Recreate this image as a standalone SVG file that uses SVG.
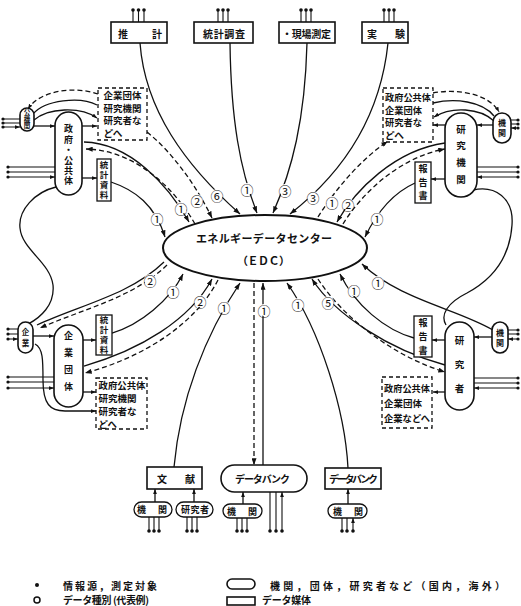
<svg xmlns="http://www.w3.org/2000/svg" width="521" height="606" viewBox="0 0 521 606">
<defs>
<style>
.ln{fill:none;stroke:#111;stroke-width:1.3}
.d{stroke-dasharray:5 3}
.nd{fill:#fff;stroke:#111;stroke-width:1.6}
.db{fill:#fff;stroke:#111;stroke-width:1.3;stroke-dasharray:4 3}
text{font-family:'Noto Sans CJK JP','Noto Sans CJK SC',sans-serif;font-weight:700;fill:#111}
.t{font-size:10px;dominant-baseline:central}
.vt{writing-mode:vertical-rl;font-size:9px}
.bx{font-size:9.5px;dominant-baseline:central}
.bs{font-size:8.6px;dominant-baseline:central}
.n{font-size:13px;text-anchor:middle;dominant-baseline:central;font-weight:400}
.bg{fill:#fff}
.pin{fill:none;stroke:#111;stroke-width:1.1}
.dot{fill:#111}
.lg{font-size:10px;dominant-baseline:central}
</style>
<marker id="ah" viewBox="0 0 8 6" refX="8" refY="3" markerWidth="7" markerHeight="5" markerUnits="userSpaceOnUse" orient="auto"><path d="M0,0L8,3L0,6z" fill="#111"/></marker>
<marker id="as" viewBox="0 0 8 6" refX="8" refY="3" markerWidth="5" markerHeight="4" markerUnits="userSpaceOnUse" orient="auto"><path d="M0,0L8,3L0,6z" fill="#111"/></marker>
</defs>
<rect width="521" height="606" fill="#fff"/>

<g id="connectors">
<!-- top boxes to EDC -->
<path class="ln" d="M140,43 C145,110 185,165 240,214" marker-end="url(#ah)"/>
<path class="ln" d="M230,43 C231,120 240,170 257,213" marker-end="url(#ah)"/>
<path class="ln" d="M307,43 C305,120 292,170 273,213" marker-end="url(#ah)"/>
<path class="ln" d="M388,43 C380,120 340,175 290,214" marker-end="url(#ah)"/>
<!-- upper left -->
<path class="ln" d="M111,182 C135,190 155,205 165,237" marker-end="url(#ah)"/>
<path class="ln" d="M84,142 C130,143 168,185 189,222" marker-end="url(#ah)"/>
<path class="ln d" d="M195,224 C174,187 134,150 86,149" marker-end="url(#ah)"/>
<path class="ln d" d="M147,132 C172,152 196,185 212,218" marker-end="url(#ah)"/>
<!-- upper right -->
<path class="ln d" d="M318,217 C335,190 360,160 388,141" marker-end="url(#ah)"/>
<path class="ln" d="M445,143 C395,150 355,190 337,222" marker-end="url(#ah)"/>
<path class="ln d" d="M343,224 C362,193 400,157 445,149" marker-end="url(#ah)"/>
<path class="ln" d="M415,183 C395,192 378,210 365,237" marker-end="url(#ah)"/>
<!-- lower left -->
<path class="ln" d="M37,325 C80,305 130,295 164,262"/>
<path class="ln d" d="M167,265 C133,298 83,309 40,328" marker-end="url(#ah)"/>
<path class="ln" d="M112,333 C140,325 170,300 183,274" marker-end="url(#ah)"/>
<path class="ln" d="M84,366 C140,350 190,320 212,279" marker-end="url(#ah)"/>
<path class="ln d" d="M218,280 C196,323 145,357 85,373" marker-end="url(#ah)"/>
<!-- bottom -->
<path class="ln" d="M174,467 C180,400 205,335 240,283" marker-end="url(#ah)"/>
<path class="ln d" d="M254,283 L254,465" marker-end="url(#ah)"/>
<path class="ln" d="M263,465 L263,283" marker-end="url(#ah)"/>
<path class="ln" d="M348,468 C345,410 320,330 287,283" marker-end="url(#ah)"/>
<!-- lower right -->
<path class="ln" d="M445,365 C390,350 335,315 312,279" marker-end="url(#ah)"/>
<path class="ln d" d="M318,279 C343,318 395,357 445,372" marker-end="url(#ah)"/>
<path class="ln" d="M414,338 C385,330 355,305 340,274" marker-end="url(#ah)"/>
<path class="ln" d="M493,330 C455,308 400,300 362,264" marker-end="url(#ah)"/>
<!-- loops -->
<path class="ln" d="M56,187 C35,192 18,210 20,228 C22,250 50,262 53,285 C55,305 40,318 28,324"/>
<path class="ln" d="M473,190 C495,185 514,198 512,225 C510,255 495,278 467,293 C447,303 440,315 446,325"/>
<!-- small arrows left upper -->
<path class="ln" d="M34,126 L55,126" marker-end="url(#as)"/>
<path class="ln" d="M82,126 L97,126" marker-end="url(#as)"/>
<path class="ln" d="M82,178 L97,178" marker-end="url(#as)"/>
<path class="ln d" d="M98,94 C75,86 40,90 28,109" marker-end="url(#as)"/>
<path class="ln" d="M33,114 C45,100 80,96 97,105"/>
<path class="ln" d="M34,120 C48,108 80,106 97,118" marker-end="url(#as)"/>
<!-- small arrows right upper -->
<path class="ln" d="M493,125 L477,125" marker-end="url(#as)"/>
<path class="ln" d="M445,125 L433,125" marker-end="url(#as)"/>
<path class="ln" d="M445,179 L431,179" marker-end="url(#as)"/>
<path class="ln d" d="M433,93 C460,88 490,95 499,112" marker-end="url(#as)"/>
<path class="ln" d="M433,103 C455,98 482,101 494,116"/>
<path class="ln" d="M494,121 C480,108 452,106 434,117" marker-end="url(#as)"/>
<!-- small arrows left lower -->
<path class="ln" d="M33,336 L54,336" marker-end="url(#as)"/>
<path class="ln" d="M83,340 L96,340" marker-end="url(#as)"/>
<path class="ln" d="M83,392 L96,392" marker-end="url(#as)"/>
<path class="ln" d="M35,344 C43,348 43,360 43,380 C43,404 50,411 65,411 L96,411" marker-end="url(#as)"/>
<!-- small arrows right lower -->
<path class="ln" d="M492,337 L474,337" marker-end="url(#as)"/>
<path class="ln" d="M445,340 L432,340" marker-end="url(#as)"/>
<path class="ln" d="M445,392 L433,392" marker-end="url(#as)"/>
<!-- bottom small arrows -->
<path class="ln" d="M155,502 L155,489" marker-end="url(#as)"/>
<path class="ln" d="M194,502 L194,489" marker-end="url(#as)"/>
<path class="ln" d="M243,504 L243,492" marker-end="url(#as)"/>
<path class="ln" d="M348,504 L348,489" marker-end="url(#as)"/>

<!-- source pins -->
<g class="pin">
<path d="M133,10V22M138.5,10V22M144,10V22M218,10V22M223,10V22M228,10V22M301,10V22M306,10V22M311,10V22M384,10V22M389,10V22M394,10V22"/>
<path d="M3,119H20M3,123H20M3,127H20" marker-end="url(#as)"/>
<path d="M8,167H55M8,172H55M8,177H55" marker-end="url(#as)"/>
<path d="M8,329H18M8,334H18M8,339H18" marker-end="url(#as)"/>
<path d="M8,377H54M8,382H54M8,388H54" marker-end="url(#as)"/>
<path d="M518,120H511M518,124H511M518,128H511" marker-end="url(#as)"/>
<path d="M518,167H477M518,172H477M518,177H477" marker-end="url(#as)"/>
<path d="M518,330H508M518,334H508M518,339H508" marker-end="url(#as)"/>
<path d="M518,378H474M518,383H474M518,388H474" marker-end="url(#as)"/>
<path d="M149,531V517M154,531V517M159,531V517M187,531V517M192,531V517M197,531V517M237,531V518M242,531V518M247,531V518M342,531V518M347,531V518M353,531V518" marker-end="url(#as)"/>
<path d="M270,531V492M276,531V492M282,531V492" marker-end="url(#as)"/>
</g>
<g class="dot">
<circle cx="133" cy="10" r="1.8"/><circle cx="138.5" cy="10" r="1.8"/><circle cx="144" cy="10" r="1.8"/>
<circle cx="218" cy="10" r="1.8"/><circle cx="223" cy="10" r="1.8"/><circle cx="228" cy="10" r="1.8"/>
<circle cx="301" cy="10" r="1.8"/><circle cx="306" cy="10" r="1.8"/><circle cx="311" cy="10" r="1.8"/>
<circle cx="384" cy="10" r="1.8"/><circle cx="389" cy="10" r="1.8"/><circle cx="394" cy="10" r="1.8"/>
<circle cx="3" cy="119" r="1.6"/><circle cx="3" cy="123" r="1.6"/><circle cx="3" cy="127" r="1.6"/>
<circle cx="8" cy="167" r="1.6"/><circle cx="8" cy="172" r="1.6"/><circle cx="8" cy="177" r="1.6"/>
<circle cx="8" cy="329" r="1.6"/><circle cx="8" cy="334" r="1.6"/><circle cx="8" cy="339" r="1.6"/>
<circle cx="8" cy="377" r="1.6"/><circle cx="8" cy="382" r="1.6"/><circle cx="8" cy="388" r="1.6"/>
<circle cx="518" cy="120" r="1.6"/><circle cx="518" cy="124" r="1.6"/><circle cx="518" cy="128" r="1.6"/>
<circle cx="518" cy="167" r="1.6"/><circle cx="518" cy="172" r="1.6"/><circle cx="518" cy="177" r="1.6"/>
<circle cx="518" cy="330" r="1.6"/><circle cx="518" cy="334" r="1.6"/><circle cx="518" cy="339" r="1.6"/>
<circle cx="518" cy="378" r="1.6"/><circle cx="518" cy="383" r="1.6"/><circle cx="518" cy="388" r="1.6"/>
<circle cx="149" cy="531" r="1.8"/><circle cx="154" cy="531" r="1.8"/><circle cx="159" cy="531" r="1.8"/>
<circle cx="187" cy="531" r="1.8"/><circle cx="192" cy="531" r="1.8"/><circle cx="197" cy="531" r="1.8"/>
<circle cx="237" cy="531" r="1.8"/><circle cx="242" cy="531" r="1.8"/><circle cx="247" cy="531" r="1.8"/>
<circle cx="270" cy="531" r="1.8"/><circle cx="276" cy="531" r="1.8"/><circle cx="282" cy="531" r="1.8"/>
<circle cx="342" cy="531" r="1.8"/><circle cx="347" cy="531" r="1.8"/><circle cx="353" cy="531" r="1.8"/>
</g>

<!-- data type labels -->
<g id="labels">
<circle class="bg" cx="217" cy="195" r="6"/><text class="n" x="217" y="195">⑥</text>
<circle class="bg" cx="247" cy="189" r="6"/><text class="n" x="247" y="189">①</text>
<circle class="bg" cx="285" cy="190" r="6"/><text class="n" x="285" y="190">③</text>
<circle class="bg" cx="313" cy="197" r="6"/><text class="n" x="313" y="197">③</text>
<circle class="bg" cx="157" cy="218" r="6"/><text class="n" x="157" y="218">①</text>
<circle class="bg" cx="181" cy="208" r="6"/><text class="n" x="181" y="208">①</text>
<circle class="bg" cx="197" cy="200" r="6"/><text class="n" x="197" y="200">②</text>
<circle class="bg" cx="332" cy="202" r="6"/><text class="n" x="332" y="202">①</text>
<circle class="bg" cx="348" cy="204" r="6"/><text class="n" x="348" y="204">②</text>
<circle class="bg" cx="377" cy="218" r="6"/><text class="n" x="377" y="218">①</text>
<circle class="bg" cx="150" cy="280" r="6"/><text class="n" x="150" y="280">②</text>
<circle class="bg" cx="173" cy="291" r="6"/><text class="n" x="173" y="291">①</text>
<circle class="bg" cx="200" cy="301" r="6"/><text class="n" x="200" y="301">②</text>
<circle class="bg" cx="224" cy="307" r="6"/><text class="n" x="224" y="307">①</text>
<circle class="bg" cx="264" cy="310" r="6"/><text class="n" x="264" y="310">①</text>
<circle class="bg" cx="298" cy="304" r="6"/><text class="n" x="298" y="304">①</text>
<circle class="bg" cx="328" cy="302" r="6"/><text class="n" x="328" y="302">⑤</text>
<circle class="bg" cx="354" cy="290" r="6"/><text class="n" x="354" y="290">①</text>
<circle class="bg" cx="378" cy="282" r="6"/><text class="n" x="378" y="282">①</text>
</g>
</g>

<!-- nodes -->
<g id="suikei"><rect class="nd" x="111" y="22" width="56" height="21"/><text class="t" x="118" y="33" textLength="44" lengthAdjust="spacing">推　計</text></g>
<g id="tokeichosa"><rect class="nd" x="194" y="22" width="59" height="21"/><text class="t" x="203" y="33" textLength="42" lengthAdjust="spacing">統計調査</text></g>
<g id="genba"><rect class="nd" x="279" y="22" width="56" height="21"/><text class="t" x="282" y="33" textLength="49" lengthAdjust="spacing">・現場測定</text></g>
<g id="jikken"><rect class="nd" x="362" y="22" width="46" height="21"/><text class="t" x="367" y="33" textLength="38" lengthAdjust="spacing">実　験</text></g>

<g id="edc"><ellipse class="nd" cx="265" cy="248" rx="102" ry="33" style="stroke-width:2"/>
<text x="196" y="238" textLength="136" lengthAdjust="spacing" style="font-size:11px;dominant-baseline:central">エネルギーデータセンター</text>
<text x="237" y="260" textLength="53" lengthAdjust="spacing" style="font-size:11px;dominant-baseline:central">（ＥＤＣ）</text></g>

<g id="koukikan"><rect class="nd" x="20" y="108" width="14" height="23" rx="7"/><text class="vt" x="27" y="109" style="font-size:6.5px;letter-spacing:0.3px">公機関</text></g>
<g id="seifu"><rect class="nd" x="55" y="112" width="27" height="83" rx="13.5"/><text class="vt" x="68.5" y="124.5" style="letter-spacing:1.4px">政府・公共体</text></g>
<g id="box-ul"><rect class="db" x="98" y="88" width="49" height="52"/><text class="bs"><tspan x="103.5" y="95" textLength="38" lengthAdjust="spacingAndGlyphs">企業団体</tspan><tspan x="103.5" y="107.5" textLength="38" lengthAdjust="spacingAndGlyphs">研究機関</tspan><tspan x="103.5" y="120" textLength="38" lengthAdjust="spacingAndGlyphs">研究者な</tspan><tspan x="103.5" y="132.5" textLength="19" lengthAdjust="spacingAndGlyphs">どへ</tspan></text></g>
<g id="tokei-ul"><rect class="nd" x="97" y="159" width="14" height="42" style="stroke-width:1.3"/><text class="vt" x="104" y="160.8" style="font-size:8.5px;letter-spacing:1.5px">統計資料</text></g>

<g id="kigyo"><rect class="nd" x="18" y="322" width="15" height="31" rx="7.5"/><text class="vt" x="25.5" y="328" style="font-size:7.5px;letter-spacing:3.5px">企業</text></g>
<g id="kigyodantai"><rect class="nd" x="54" y="325" width="29" height="82" rx="14.5"/><text class="vt" x="68.5" y="331.5" style="letter-spacing:7.7px">企業団体</text></g>
<g id="tokei-ll"><rect class="nd" x="96" y="315" width="16" height="40" style="stroke-width:1.3"/><text class="vt" x="104" y="315.8" style="font-size:8.5px;letter-spacing:1.5px">統計資料</text></g>
<g id="box-ll"><rect class="db" x="96" y="378" width="51" height="51"/><text class="bx"><tspan x="98.5" y="385" textLength="47" lengthAdjust="spacingAndGlyphs">政府公共体</tspan><tspan x="98.5" y="398">研究機関</tspan><tspan x="98.5" y="411">研究者な</tspan><tspan x="98.5" y="424">どへ</tspan></text></g>

<g id="kikan-ur"><rect class="nd" x="493" y="113" width="18" height="30" rx="9"/><text class="vt" x="502" y="119" style="font-size:8px;letter-spacing:2px">機関</text></g>
<g id="kenkyukikan"><rect class="nd" x="445" y="113" width="32" height="84" rx="16"/><text class="vt" x="461" y="124.3" style="font-size:9.5px;letter-spacing:7.2px">研究機関</text></g>
<g id="box-ur"><rect class="db" x="383" y="88" width="50" height="54"/><text class="bs"><tspan x="385" y="97" textLength="46" lengthAdjust="spacingAndGlyphs">政府公共体</tspan><tspan x="385" y="109.5" textLength="37" lengthAdjust="spacingAndGlyphs">企業団体</tspan><tspan x="385" y="122" textLength="37" lengthAdjust="spacingAndGlyphs">研究者な</tspan><tspan x="385" y="134.5" textLength="19" lengthAdjust="spacingAndGlyphs">どへ</tspan></text></g>
<g id="hokoku-ur"><rect class="nd" x="415" y="162" width="16" height="41" style="stroke-width:1.3"/><text class="vt" x="423" y="164.5" style="letter-spacing:4.5px">報告書</text></g>

<g id="kenkyusha"><rect class="nd" x="445" y="322" width="29" height="88" rx="14.5"/><text class="vt" x="459.5" y="335.3" style="font-size:9.5px;letter-spacing:14.5px">研究者</text></g>
<g id="kikan-mr"><rect class="nd" x="492" y="322" width="16" height="31" rx="8"/><text class="vt" x="500" y="329" style="font-size:8px;letter-spacing:2px">機関</text></g>
<g id="hokoku-lr"><rect class="nd" x="414" y="316" width="18" height="41" style="stroke-width:1.3"/><text class="vt" x="423" y="318.5" style="letter-spacing:5px">報告書</text></g>
<g id="box-lr"><rect class="db" x="382" y="377" width="50" height="51"/><text class="bx"><tspan x="384" y="388" textLength="46" lengthAdjust="spacingAndGlyphs">政府公共体</tspan><tspan x="384" y="403">企業団体</tspan><tspan x="384" y="418" textLength="46" lengthAdjust="spacingAndGlyphs">企業などへ</tspan></text></g>

<g id="bunken"><rect class="nd" x="147" y="467" width="55" height="22"/><text class="t" x="157" y="478" textLength="38" lengthAdjust="spacing">文　献</text></g>
<g id="databank1"><rect class="nd" x="221" y="465" width="86" height="27" rx="13.5"/><text class="t" x="235" y="478.5" textLength="55" lengthAdjust="spacing">データバンク</text></g>
<g id="databank2"><rect class="nd" x="325" y="468" width="56" height="21"/><text class="t" x="329" y="478.5" textLength="49" lengthAdjust="spacing">データバンク</text></g>
<g id="kikan-b1"><rect class="nd" x="134" y="502" width="38" height="15" rx="7.5" style="stroke-width:1.3"/><text class="t" x="137" y="509.5" textLength="30" lengthAdjust="spacing" style="font-size:9px">機　関</text></g>
<g id="kenkyusha-b"><rect class="nd" x="176" y="502" width="37" height="15" rx="7.5" style="stroke-width:1.3"/><text class="t" x="181" y="509.5" textLength="28" lengthAdjust="spacing" style="font-size:9px">研究者</text></g>
<g id="kikan-b2"><rect class="nd" x="223" y="504" width="39" height="14" rx="7" style="stroke-width:1.3"/><text class="t" x="227" y="511" textLength="30" lengthAdjust="spacing" style="font-size:9px">機　関</text></g>
<g id="kikan-b3"><rect class="nd" x="328" y="504" width="39" height="14" rx="7" style="stroke-width:1.3"/><text class="t" x="333" y="511" textLength="30" lengthAdjust="spacing" style="font-size:9px">機　関</text></g>

<!-- legend -->
<g id="legend">
<circle cx="37" cy="585" r="2" fill="#111"/>
<text class="lg" x="63" y="585" textLength="94" lengthAdjust="spacing">情報源，測定対象</text>
<rect x="227" y="579" width="28" height="10" rx="5" fill="#fff" stroke="#111" stroke-width="1.6"/>
<text class="lg" x="270" y="585" textLength="235" lengthAdjust="spacing">機関，団体，研究者など（国内，海外）</text>
<circle cx="37" cy="600" r="3" fill="none" stroke="#111" stroke-width="1.5"/>
<text class="lg" x="63" y="599.5" textLength="86" lengthAdjust="spacing">データ種別 (代表例)</text>
<rect x="227" y="597" width="28" height="8" fill="#fff" stroke="#111" stroke-width="1.6"/>
<text class="lg" x="262" y="599.5" textLength="49" lengthAdjust="spacing">データ媒体</text>
</g>
</svg>
